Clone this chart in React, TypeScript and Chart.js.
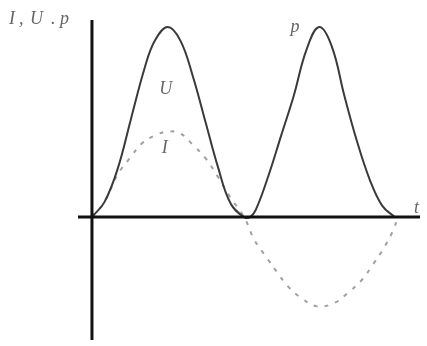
import React, { useEffect, useRef } from "react";
import { Chart, registerables } from "chart.js";
Chart.register(...registerables);

// power p (solid) – phase angle (deg) and relative value
const pT = [0, 15, 31, 46, 63, 75, 90, 105, 120, 135, 150, 165, 181, 188, 195, 210, 225, 240, 255, 270, 285, 300, 315, 330, 345, 360];
const pValues = [0, 0.08, 0.26, 0.51, 0.79, 0.93, 1, 0.93, 0.74, 0.5, 0.26, 0.07, 0, 0, 0.04, 0.22, 0.43, 0.64, 0.88, 1, 0.9, 0.64, 0.4, 0.2, 0.06, 0];
// current I (dashed)
const iT = [0, 15, 30, 45, 60, 75, 90, 105, 120, 135, 150, 165, 181, 193, 208, 220, 232, 247, 268, 289, 304, 321, 334, 346, 357, 364];
const iValues = [0, 0.08, 0.22, 0.31, 0.39, 0.43, 0.45, 0.44, 0.38, 0.31, 0.21, 0.1, 0, -0.12, -0.215, -0.29, -0.36, -0.42, -0.47, -0.45, -0.4, -0.33, -0.25, -0.17, -0.08, 0];
// text labels
const axisYLabel = ["I", ",", "U", ".", "p"];
const axisXLabel = "t";
const curveLabels = [
  { text: "U", t: 80, v: 0.67 },
  { text: "I", t: 83, v: 0.36 },
  { text: "p", t: 236, v: 1.0 },
];

const axesPlugin = {
  id: "axesPlugin",
  afterDatasetsDraw(chart: any) {
    const { ctx, chartArea, scales } = chart;
    const x0 = scales.x.getPixelForValue(0);
    const y0 = scales.y.getPixelForValue(0);
    ctx.save();
    ctx.strokeStyle = "#111";
    ctx.lineWidth = 3;
    ctx.beginPath();
    ctx.moveTo(x0, chartArea.top);
    ctx.lineTo(x0, chartArea.bottom);
    ctx.moveTo(chartArea.left, y0);
    ctx.lineTo(chartArea.right, y0);
    ctx.stroke();
    ctx.fillStyle = "#666";
    ctx.font = "italic 18px 'Liberation Serif', serif";
    ctx.textBaseline = "middle";
    ctx.textAlign = "left";
    const xs = [9, 19, 30, 51, 60];
    axisYLabel.forEach((c, i) => ctx.fillText(c, xs[i], 19));
    ctx.fillText(axisXLabel, chartArea.right - 6, y0 - 9);
    for (const l of curveLabels) {
      ctx.fillText(l.text, scales.x.getPixelForValue(l.t), scales.y.getPixelForValue(l.v));
    }
    ctx.restore();
  },
};

export default function App() {
  const ref = useRef<HTMLCanvasElement>(null);
  useEffect(() => {
    const chart = new Chart(ref.current!, {
      type: "line",
      data: {
        datasets: [
          {
            data: pT.map((t, i) => ({ x: t, y: pValues[i] })),
            borderColor: "#3a3a3a",
            borderWidth: 2,
            pointRadius: 0,
            tension: 0.4,
          },
          {
            data: iT.map((t, i) => ({ x: t, y: iValues[i] })),
            borderColor: "#a0a0a0",
            borderWidth: 2,
            borderDash: [4, 7],
            pointRadius: 0,
            tension: 0.4,
          },
        ],
      },
      options: {
        animation: false,
        responsive: false,
        layout: { padding: { left: 78, right: 7, top: 20, bottom: 6 } },
        plugins: { legend: { display: false }, tooltip: { enabled: false } },
        scales: {
          x: { type: "linear", min: -16.6, max: 390, display: false },
          y: { min: -0.647, max: 1.037, display: false },
        },
      },
      plugins: [axesPlugin],
    } as any);
    return () => chart.destroy();
  }, []);
  return (
    <div style={{ position: "fixed", left: 0, top: 0, width: 427, height: 346, background: "#fff" }}>
      <canvas ref={ref} width={427} height={346} />
    </div>
  );
}
